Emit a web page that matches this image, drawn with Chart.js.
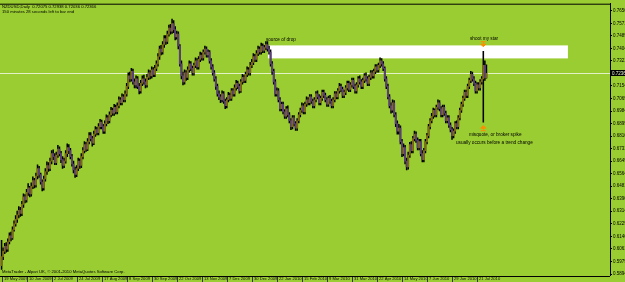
<!DOCTYPE html>
<html><head><meta charset="utf-8">
<script src="https://cdn.jsdelivr.net/npm/chart.js@4.4.0/dist/chart.umd.min.js"></script>
<style>html,body{margin:0;padding:0;background:#9acd32;overflow:hidden;width:625px;height:282px}canvas{display:block}</style>
</head><body>
<canvas id="c" width="625" height="282" style="width:625px;height:282px"></canvas>
<script>
const headerLine1 = "NZDUSD,Daily  0.72075 0.72938 0.72036 0.72366";
const headerLine2 = "150 minutes 28 seconds left to bar end";
const copyrightText = "MetaTrader - Alpari UK, \u00A9 2001-2010 MetaQuotes Software Corp.";

const openP = [
5950,6010,6045,6080,6060,6110,6150,6135,6190,6230,
6260,6290,6320,6300,6360,6410,6390,6440,6470,6430,
6480,6520,6490,6550,6600,6560,6510,6470,6530,6580,
6620,6600,6650,6700,6680,6640,6690,6730,6700,6660,
6620,6650,6700,6740,6720,6680,6630,6590,6560,6600,
6650,6620,6680,6720,6760,6730,6780,6820,6800,6770,
6830,6860,6840,6880,6910,6880,6850,6900,6940,6920,
6960,6990,6970,7010,6980,7020,7060,7040,7080,7060,
7100,7150,7220,7200,7250,7180,7160,7200,7150,7120,
7170,7200,7180,7160,7210,7240,7220,7260,7230,7270,
7300,7350,7400,7380,7430,7470,7450,7500,7540,7520,
7570,7530,7480,7500,7420,7300,7220,7180,7240,7210,
7260,7300,7270,7240,7290,7320,7280,7330,7360,7340,
7380,7400,7360,7380,7320,7280,7240,7200,7150,7100,
7080,7060,7100,7050,7020,7060,7090,7070,7120,7100,
7140,7170,7150,7120,7180,7210,7190,7230,7260,7240,
7290,7310,7350,7330,7370,7400,7380,7420,7390,7410,
7430,7400,7380,7300,7250,7180,7100,7120,7060,7000,
7030,6980,6950,7000,6960,6920,6880,6940,6900,6870,
6920,6960,6990,7020,6980,7030,7060,7040,7080,7050,
7020,7060,7100,7080,7040,7070,7110,7090,7060,7030,
7070,7050,7020,7060,7100,7080,7120,7150,7130,7090,
7110,7140,7170,7130,7160,7190,7150,7120,7160,7200,
7180,7150,7190,7220,7200,7170,7210,7240,7220,7250,
7280,7260,7290,7320,7300,7270,7200,7150,7080,7020,
6990,7040,6960,6900,6850,6870,6780,6700,6740,6650,
6610,6690,6760,6720,6800,6830,6790,6740,6780,6700,
6660,6720,6780,6820,6880,6920,6950,6990,6960,7010,
7040,7000,6960,7010,6970,6920,6940,6890,6860,6820,
6850,6900,6880,6940,6990,7030,7070,7110,7090,7150,
7190,7230,7200,7170,7120,7160,7140,7180,7200,7290,7208];
const highP = [
6120,6070,6100,6105,6130,6170,6175,6210,6250,6285,
6315,6345,6340,6380,6430,6425,6460,6500,6480,6505,
6545,6535,6570,6625,6615,6570,6525,6550,6600,6645,
6640,6670,6720,6725,6700,6710,6755,6745,6715,6680,
6670,6720,6765,6760,6735,6695,6650,6610,6620,6670,
6665,6700,6740,6780,6775,6800,6840,6840,6815,6850,
6880,6875,6900,6930,6925,6895,6920,6960,6955,6980,
7010,7005,7030,7025,7040,7080,7075,7100,7095,7120,
7170,7240,7245,7270,7265,7200,7220,7215,7170,7190,
7220,7225,7200,7230,7260,7255,7280,7275,7290,7320,
7370,7420,7425,7450,7490,7490,7520,7560,7565,7600,
7590,7550,7520,7515,7430,7320,7245,7260,7255,7280,
7320,7315,7285,7305,7340,7335,7350,7380,7375,7395,
7420,7415,7395,7390,7335,7295,7255,7215,7165,7120,
7095,7120,7115,7065,7075,7110,7105,7135,7135,7160,
7190,7185,7165,7195,7230,7225,7245,7280,7275,7310,
7330,7370,7365,7390,7420,7415,7440,7435,7425,7450,
7450,7420,7395,7315,7265,7195,7140,7135,7075,7045,
7045,6995,7015,7020,6975,6935,6955,6955,6915,6935,
6975,7005,7040,7035,7045,7080,7075,7095,7095,7065,
7075,7115,7120,7095,7085,7125,7125,7105,7075,7085,
7090,7065,7075,7115,7115,7135,7170,7165,7145,7125,
7155,7185,7185,7175,7205,7205,7165,7175,7215,7220,
7195,7205,7235,7240,7215,7225,7255,7255,7265,7295,
7295,7305,7340,7335,7315,7280,7215,7165,7095,7040,
7060,7055,6975,6920,6895,6885,6795,6765,6755,6670,
6710,6775,6780,6815,6850,6845,6805,6795,6795,6720,
6735,6795,6835,6895,6935,6970,7005,7000,7025,7060,
7055,7015,7025,7025,6985,6955,6955,6905,6875,6865,
6915,6920,6955,7005,7045,7085,7125,7125,7165,7205,
7250,7245,7215,7185,7175,7175,7195,7215,7384,7320,7294];
const lowP = [
5925,5990,6030,6040,6045,6095,6115,6125,6180,6215,
6240,6270,6280,6285,6340,6370,6375,6420,6410,6415,
6465,6470,6475,6530,6540,6495,6450,6455,6515,6560,
6580,6585,6630,6660,6625,6625,6675,6685,6640,6600,
6605,6635,6680,6700,6665,6615,6570,6540,6545,6585,
6600,6605,6665,6705,6715,6720,6765,6785,6750,6760,
6815,6825,6825,6865,6865,6835,6835,6885,6900,6905,
6945,6955,6955,6965,6965,7005,7025,7025,7045,7045,
7085,7135,7180,7185,7165,7140,7140,7135,7100,7105,
7155,7165,7140,7145,7195,7200,7205,7215,7215,7255,
7285,7330,7360,7365,7410,7430,7435,7485,7500,7505,
7510,7460,7465,7400,7285,7200,7160,7165,7190,7195,
7245,7255,7225,7225,7275,7265,7265,7315,7325,7325,
7365,7345,7345,7305,7265,7225,7185,7130,7085,7060,
7040,7045,7035,7000,7005,7045,7055,7055,7085,7085,
7125,7135,7105,7110,7165,7175,7175,7215,7225,7225,
7275,7295,7315,7315,7355,7365,7365,7375,7375,7395,
7385,7365,7285,7230,7165,7085,7085,7045,6985,6985,
6965,6935,6935,6945,6905,6860,6865,6885,6855,6855,
6905,6945,6975,6965,6965,7015,7025,7025,7035,7005,
7005,7045,7065,7025,7025,7055,7075,7045,7015,7015,
7035,7005,7005,7045,7065,7065,7105,7115,7075,7075,
7095,7125,7115,7115,7145,7135,7105,7105,7145,7165,
7135,7135,7175,7185,7155,7155,7195,7205,7205,7235,
7245,7245,7275,7285,7255,7185,7135,7065,7005,6970,
6975,6945,6880,6830,6830,6765,6680,6685,6630,6590,
6595,6675,6705,6705,6785,6775,6725,6725,6685,6645,
6645,6705,6765,6805,6865,6905,6935,6945,6945,6995,
6985,6945,6945,6955,6905,6905,6875,6845,6795,6805,
6835,6865,6865,6925,6975,7015,7055,7075,7075,7135,
7175,7185,7155,7105,7105,7125,7125,7165,6911,7190,7204];
const closeP = [
6010,6045,6080,6060,6110,6150,6135,6190,6230,6260,
6290,6320,6300,6360,6410,6390,6440,6470,6430,6480,
6520,6490,6550,6600,6560,6510,6470,6530,6580,6620,
6600,6650,6700,6680,6640,6690,6730,6700,6660,6620,
6650,6700,6740,6720,6680,6630,6590,6560,6600,6650,
6620,6680,6720,6760,6730,6780,6820,6800,6770,6830,
6860,6840,6880,6910,6880,6850,6900,6940,6920,6960,
6990,6970,7010,6980,7020,7060,7040,7080,7060,7100,
7150,7220,7200,7250,7180,7160,7200,7150,7120,7170,
7200,7180,7160,7210,7240,7220,7260,7230,7270,7300,
7350,7400,7380,7430,7470,7450,7500,7540,7520,7570,
7530,7480,7500,7420,7300,7220,7180,7240,7210,7260,
7300,7270,7240,7290,7320,7280,7330,7360,7340,7380,
7400,7360,7380,7320,7280,7240,7200,7150,7100,7080,
7060,7100,7050,7020,7060,7090,7070,7120,7100,7140,
7170,7150,7120,7180,7210,7190,7230,7260,7240,7290,
7310,7350,7330,7370,7400,7380,7420,7390,7410,7430,
7400,7380,7300,7250,7180,7100,7120,7060,7000,7030,
6980,6950,7000,6960,6920,6880,6940,6900,6870,6920,
6960,6990,7020,6980,7030,7060,7040,7080,7050,7020,
7060,7100,7080,7040,7070,7110,7090,7060,7030,7070,
7050,7020,7060,7100,7080,7120,7150,7130,7090,7110,
7140,7170,7130,7160,7190,7150,7120,7160,7200,7180,
7150,7190,7220,7200,7170,7210,7240,7220,7250,7280,
7260,7290,7320,7300,7270,7200,7150,7080,7020,6990,
7040,6960,6900,6850,6870,6780,6700,6740,6650,6610,
6690,6760,6720,6800,6830,6790,6740,6780,6700,6660,
6720,6780,6820,6880,6920,6950,6990,6960,7010,7040,
7000,6960,7010,6970,6920,6940,6890,6860,6820,6850,
6900,6880,6940,6990,7030,7070,7110,7090,7150,7190,
7230,7200,7170,7120,7160,7140,7180,7200,7290,7208,7237];

const dateLabels = ["19 May 2009","10 Jun 2009","2 Jul 2009","24 Jul 2009","17 Aug 2009","8 Sep 2009",
  "30 Sep 2009","22 Oct 2009","13 Nov 2009","7 Dec 2009","30 Dec 2009","22 Jan 2010","15 Feb 2010",
  "9 Mar 2010","31 Mar 2010","22 Apr 2010","14 May 2010","7 Jun 2010","29 Jun 2010","21 Jul 2010"];
const dateLabelBars = [0,16,32,48,64,80,96,112,128,144,160,176,192,208,224,240,256,272,288,304];
const priceTicks = [0.76565,0.75715,0.74890,0.74040,0.73215,0.72365,0.71540,0.70690,0.69840,0.68990,
  0.68165,0.67315,0.66490,0.65640,0.64815,0.63965,0.63140,0.62290,0.61465,0.60615,0.59790,0.58940];
const bidPrice = 0.72366;
const zoneBox = {fromBar:170.3, toBar:362.1, top:0.7424, bottom:0.7337};
const notes = [
  {text:"source of drop", bar:169, price:0.7464},
  {text:"shoot my star", bar:299.5, price:0.7470},
  {text:"misquote, or broker spike", bar:298.8, price:0.6825},
  {text:"usually occurs before a trend change", bar:290.5, price:0.6772}
];
const arrows = [{bar:308, price:0.7432, dir:"down"},{bar:308, price:0.6870, dir:"up"}];

const BG = "#9acd32";
const BULL = "#7d6a1c";
const BEAR = "#5b3f7a";
const FONT = "'Liberation Sans', Arial, sans-serif";

const wickData = highP.map((h,i)=>({x:i, y:[lowP[i]/1e4, h/1e4]}));
const bodyData = openP.map((o,i)=>({x:i, y:[o/1e4, closeP[i]/1e4]}));

const drawPlugin = {
  id:'mt4',
  beforeDraw(chart){
    const c = chart.ctx;
    c.save(); c.fillStyle = BG; c.fillRect(0,0,chart.width,chart.height); c.restore();
  },
  beforeDatasetsDraw(chart){
    const c = chart.ctx, xs = chart.scales.x, ys = chart.scales.y, a = chart.chartArea;
    c.save();
    const x0 = xs.getPixelForValue(zoneBox.fromBar), x1 = xs.getPixelForValue(zoneBox.toBar);
    const y0 = ys.getPixelForValue(zoneBox.top), y1 = ys.getPixelForValue(zoneBox.bottom);
    c.fillStyle = "#ffffff";
    c.fillRect(x0, y0, x1-x0, y1-y0);
    const yb = Math.round(ys.getPixelForValue(bidPrice)) + 0.5;
    c.strokeStyle = "rgba(235,245,215,0.9)";
    c.lineWidth = 1;
    c.beginPath(); c.moveTo(a.left, yb); c.lineTo(a.right, yb); c.stroke();
    c.strokeStyle = "#000";
    c.beginPath(); c.moveTo(a.left, a.top+0.5); c.lineTo(a.right, a.top+0.5); c.stroke();
    c.restore();
  },
  afterDatasetsDraw(chart){
    const c = chart.ctx, xs = chart.scales.x, ys = chart.scales.y;
    c.save();
    c.fillStyle = "#000";
    c.textBaseline = "middle";
    c.font = "4.7px " + FONT;
    notes.forEach(n=>{
      c.fillText(n.text, xs.getPixelForValue(n.bar), ys.getPixelForValue(n.price));
    });
    c.fillStyle = "#ff8c00"; c.strokeStyle = "#ff8c00"; c.lineWidth = 1;
    arrows.forEach(ar=>{
      const x = xs.getPixelForValue(ar.bar), y = ys.getPixelForValue(ar.price);
      c.beginPath();
      if (ar.dir === "down") {
        c.moveTo(x-2.5, y-2.5); c.lineTo(x+2.5, y-2.5);
        c.moveTo(x-2.5, y); c.lineTo(x+2.5, y); c.lineTo(x, y+2.5); c.closePath();
      } else {
        c.moveTo(x-2.5, y+2.5); c.lineTo(x+2.5, y+2.5);
        c.moveTo(x-2.5, y); c.lineTo(x+2.5, y); c.lineTo(x, y-2.5); c.closePath();
      }
      c.stroke(); c.fill();
      c.fillRect(x-0.5, ar.dir==="down" ? y-2.5 : y, 1, 2.5);
    });
    c.fillStyle = "#000";
    c.font = "4.2px " + FONT;
    c.textBaseline = "middle";
    c.fillText(headerLine1, 2, 7);
    c.fillText(headerLine2, 2, 12);
    c.fillText(copyrightText, 2, 272);
    c.restore();
  },
  afterDraw(chart){
    const c = chart.ctx, xs = chart.scales.x, ys = chart.scales.y, a = chart.chartArea;
    c.save();
    c.fillStyle = BG;
    c.fillRect(0, a.bottom, a.right + 1, chart.height - a.bottom);
    c.strokeStyle = "#000"; c.lineWidth = 1;
    c.beginPath(); c.moveTo(a.left, a.bottom+0.5); c.lineTo(a.right, a.bottom+0.5); c.stroke();
    c.font = "4.1px " + FONT;
    c.textBaseline = "middle";
    c.textAlign = "left";
    dateLabelBars.forEach((b,i)=>{
      const x = Math.round(xs.getPixelForValue(b)) + 0.5;
      c.strokeStyle = "#333";
      c.beginPath(); c.moveTo(x, a.bottom + 1); c.lineTo(x, chart.height); c.stroke();
      c.fillStyle = "#111";
      c.fillText(dateLabels[i], x + 1.5, a.bottom + 3);
    });
    const y = ys.getPixelForValue(bidPrice);
    c.fillStyle = "#000";
    c.fillRect(a.right+1, Math.round(y)-3, chart.width - a.right, 6);
    c.fillStyle = "#e8f5d0";
    c.font = "4.5px " + FONT;
    c.fillText(bidPrice.toFixed(5), a.right+2, y);
    c.restore();
  }
};

new Chart(document.getElementById('c'), {
  type:'bar',
  data:{
    datasets:[
      {data:bodyData, grouped:false, order:1, barThickness:1.3, minBarLength:1,
       backgroundColor: ctx => (closeP[ctx.dataIndex] >= openP[ctx.dataIndex] ? BULL : BEAR),
       borderWidth:0},
      {data:wickData, grouped:false, order:2, barThickness:0.9, backgroundColor:"#000", borderWidth:0}
    ]
  },
  options:{
    responsive:false, animation:false, devicePixelRatio:1,
    layout:{padding:{top:3,left:0,right:0,bottom:6}},
    plugins:{legend:{display:false}, tooltip:{enabled:false}},
    scales:{
      x:{type:'linear', min:-1, max:389, offset:false, display:false},
      y:{type:'linear', position:'right', min:0.58807, max:0.77031,
        afterBuildTicks: s => { s.ticks = priceTicks.map(v=>({value:v})); },
        afterFit: s => { s.width = 15; },
        ticks:{autoSkip:false, padding:1, font:{size:4.5, family:FONT}, color:'#000',
          callback:v=>v.toFixed(5)},
        grid:{drawOnChartArea:false, drawTicks:true, tickLength:2, color:'#000'},
        border:{display:true, color:'#000'}
      }
    }
  },
  plugins:[drawPlugin]
});
</script>
</body></html>
